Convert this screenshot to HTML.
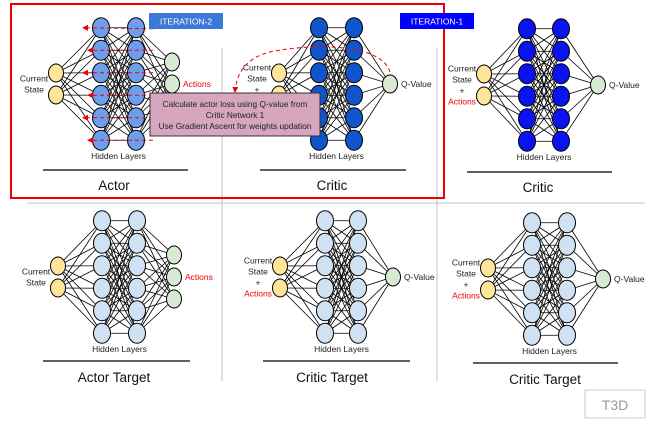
<!DOCTYPE html>
<html><head><meta charset="utf-8"><style>
body{margin:0;background:#fff;width:665px;height:426px;overflow:hidden;font-family:"Liberation Sans",sans-serif}
svg text{font-family:"Liberation Sans",sans-serif}
</style></head><body>
<svg id="s" width="665" height="426" viewBox="0 0 665 426" xmlns="http://www.w3.org/2000/svg">
<defs><marker id="ah" markerWidth="6" markerHeight="6" refX="5" refY="3" orient="auto"><path d="M0,0 L6,3 L0,6 z" fill="#e00"/></marker></defs>
<g id="grid" stroke="#ccc" stroke-width="1.2">
<line x1="222" y1="48" x2="222" y2="381"/><line x1="437" y1="48" x2="437" y2="381"/>
<line x1="27" y1="203" x2="645" y2="203"/>
</g>
<g id="nets"></g>
<g id="overlay"></g>
</svg>
<script>
const layerSizes=[2,6,6,3];
const criticSizes=[2,6,6,1];
const nets=[
 {name:'actor',x:[56,101,136,172],cy:84,hid:'#6d9eeb',sizes:layerSizes,label:'Actor',inLab:['Current','State'],out:'Actions',outRed:true,line:[43,188,170],title:[114,190]},
 {name:'critic-1',x:[279,319,354,390],cy:84,hid:'#1155cc',sizes:criticSizes,label:'Critic',inLab:['Current','State','+','Actions'],out:'Q-Value',line:[260,406,170],title:[332,190]},
 {name:'critic-2',x:[484,527,561,598],cy:85,hid:'#0a14f0',sizes:criticSizes,label:'Critic',inLab:['Current','State','+','Actions'],out:'Q-Value',line:[467,612,172],title:[538,192]},
 {name:'actor-target',x:[58,102,137,174],cy:277,hid:'#cfe2f3',sizes:layerSizes,label:'Actor Target',inLab:['Current','State'],out:'Actions',outRed:true,line:[43,190,361],title:[114,382]},
 {name:'critic-target-1',x:[280,325,358,393],cy:277,hid:'#cfe2f3',sizes:criticSizes,label:'Critic Target',inLab:['Current','State','+','Actions'],out:'Q-Value',line:[263,410,361],title:[332,382]},
 {name:'critic-target-2',x:[488,532,567,603],cy:279,hid:'#cfe2f3',sizes:criticSizes,label:'Critic Target',inLab:['Current','State','+','Actions'],out:'Q-Value',line:[473,618,363],title:[545,384]}
];
const NS='http://www.w3.org/2000/svg';
const root=document.getElementById('nets');
function mk(tag,attrs,parent){const e=document.createElementNS(NS,tag);for(const k in attrs)e.setAttribute(k,attrs[k]);parent.appendChild(e);return e;}
const gapH=22.5;
function ys(n,cy,gap){const r=[];for(let i=0;i<n;i++)r.push(cy+(i-(n-1)/2)*gap);return r;}
nets.forEach(n=>{
 const g=mk('g',{},root);
 
 
 const layers=n.sizes.map((s,i)=>ys(s,n.cy,i==0?22:(i==3?22:gapH)));
 const eg=mk('g',{stroke:'#000','stroke-width':'0.8'},g);
 for(let l=0;l<3;l++)layers[l].forEach(y1=>layers[l+1].forEach(y2=>mk('line',{x1:n.x[l],y1:y1,x2:n.x[l+1],y2:y2},eg)));
 const cols=['#ffe599',n.hid,n.hid,'#d9ead3'];
 layers.forEach((L,l)=>L.forEach((y,i)=>{const c=mk('ellipse',{cx:n.x[l],cy:y,rx:l==0||l==3?7.5:8.5,ry:l==0||l==3?9:10,fill:cols[l],stroke:'#000','stroke-width':'1'},g);
  
  }));
 const x0=n.x[0]-22;
 const lab=mk('text',{x:x0,'font-size':'8.5','text-anchor':'middle',fill:'#222'},g);
 
 
 const nl=n.inLab.length, y0=n.cy-(nl-1)/2*11+3;
 n.inLab.forEach((t,i)=>{const s=mk('tspan',{x:x0,y:y0+i*11},lab);if(t=='Actions')s.setAttribute('fill','#e00');s.textContent=t;});
 const oy=n.cy+3;
 const ot=mk('text',{x:n.x[3]+11,y:oy,'font-size':'8.5',fill:n.outRed?'#e00':'#222'},g);
 
 
 ot.textContent=n.out;
 const ht=mk('text',{x:(n.x[1]+n.x[2])/2,y:n.cy+75,'font-size':'8.5','text-anchor':'middle',fill:'#222'},g);
 
 
 ht.textContent='Hidden Layers';
 const ln=mk('line',{x1:n.line[0],x2:n.line[1],y1:n.line[2],y2:n.line[2],stroke:'#000','stroke-width':'1.3'},g);
 
 
 const tt=mk('text',{x:n.title[0],y:n.title[1],'font-size':'13.5','text-anchor':'middle',fill:'#111'},g);
 
 
 tt.textContent=n.label;
});
const ov=document.getElementById('overlay');
const arrowYs=ys(6,84,gapH);
arrowYs.forEach((y,i)=>{const a=mk('line',{x1:153,y1:y+(i==0?1:0),x2:i%2?88:83,y2:y,stroke:'#e00','stroke-width':'1','stroke-dasharray':'4,3','marker-end':'url(#ah)'},ov);
 
 });
const cv=mk('path',{d:'M390,72 C380,40 300,45 270,52 C245,58 236,75 235,92',fill:'none',stroke:'#e00','stroke-width':'1','stroke-dasharray':'4,3','marker-end':'url(#ah)'},ov);


</script>
<svg width="665" height="426" style="position:absolute;left:0;top:0" xmlns="http://www.w3.org/2000/svg">
<rect x="11" y="4" width="433" height="194" fill="none" stroke="#e00" stroke-width="2"/>
<rect x="149" y="13" width="74" height="16" fill="#3c78d8"/>
<text x="186" y="24.5" font-size="8.5" fill="#fff" text-anchor="middle" font-family="Liberation Sans">ITERATION-2</text>
<rect x="400" y="13" width="74" height="16" fill="#0000ff"/>
<text x="437" y="24.5" font-size="8.5" fill="#fff" text-anchor="middle" font-family="Liberation Sans">ITERATION-1</text>
<rect x="150" y="93" width="170" height="43" fill="#d5a6bd" stroke="#333" stroke-width="1"/>
<text font-size="8.3" fill="#222" text-anchor="middle" font-family="Liberation Sans"><tspan x="235" y="107">Calculate actor loss using Q-value from</tspan><tspan x="235" y="118">Critic Network 1</tspan><tspan x="235" y="129">Use Gradient Ascent for weights updation</tspan></text>
<rect x="585" y="390" width="60" height="28" fill="#fff" stroke="#ccc" stroke-width="1"/>
<text x="615" y="410" font-size="14" fill="#999" text-anchor="middle" font-family="Liberation Sans">T3D</text>
</svg>
</body></html>
